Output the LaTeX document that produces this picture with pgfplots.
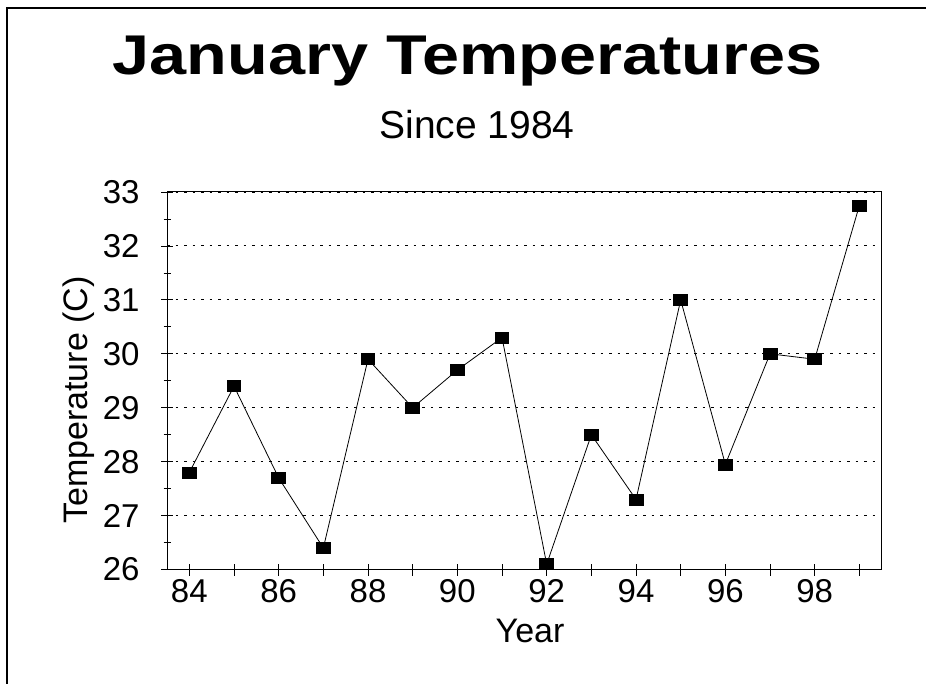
\documentclass[border=0pt]{standalone}
\usepackage{fontspec}
\setmainfont{Liberation Sans}
\newfontfamily\titlefont[FakeStretch=1.19]{Liberation Sans}
\usepackage{pgfplots}
\pgfplotsset{compat=1.18}
\begin{document}
\begin{tikzpicture}
\path[use as bounding box] (0pt,0pt) rectangle (926pt,684pt);
\draw[line width=1.5pt] (7pt,0pt) -- (7pt,676pt) -- (926pt,676pt);
\node[anchor=base,inner sep=0pt] at (467.5pt,609pt) {\titlefont\bfseries\fontsize{56}{60}\selectfont January Temperatures};
\node[anchor=base,inner sep=0pt] at (477pt,545pt) {\fontsize{39}{44}\selectfont Since 1984};
\begin{axis}[
  at={(167pt,114.4pt)}, anchor=south west,
  scale only axis, width=714.7pt, height=377.6pt,
  xmin=83.5, xmax=99.5, ymin=26, ymax=33,
  xtick={84,...,99},
  xticklabels={84,,86,,88,,90,,92,,94,,96,,98,},
  ytick={26,...,33},
  minor y tick num=1,
  tick pos=left, tick align=center,
  major tick length=12pt, minor tick length=7pt,
  every tick/.style={black, line width=0.8pt},
  axis line style={line width=1pt},
  ymajorgrids,
  major grid style={black, line width=0.9pt, dash pattern=on 2.5pt off 6pt},
  /pgf/number format/assume math mode=true,
  ticklabel style={font=\fontsize{33}{36}\selectfont},
  yticklabel style={xshift=-18pt},
  xlabel={Year}, ylabel={Temperature (C)},
  label style={font=\fontsize{34}{38}\selectfont},
  xlabel style={at={(rel axis cs:0.508,-0.1936)}, anchor=base, inner sep=0pt},
  ylabel style={at={(rel axis cs:-0.1119,0.449)}, anchor=base, inner sep=0pt},
  clip=false,
]
\addplot[black, line width=0.8pt, mark=square*, mark size=5.5pt,
  mark options={xscale=1.25, solid, fill=black}]
coordinates {
(84,27.8) (85,29.4) (86,27.7) (87,26.4) (88,29.9) (89,29.0) (90,29.7) (91,30.3)
(92,26.1) (93,28.5) (94,27.3) (95,31.0) (96,27.95) (97,30.0) (98,29.9) (99,32.75)
};
\end{axis}
\end{tikzpicture}
\end{document}
